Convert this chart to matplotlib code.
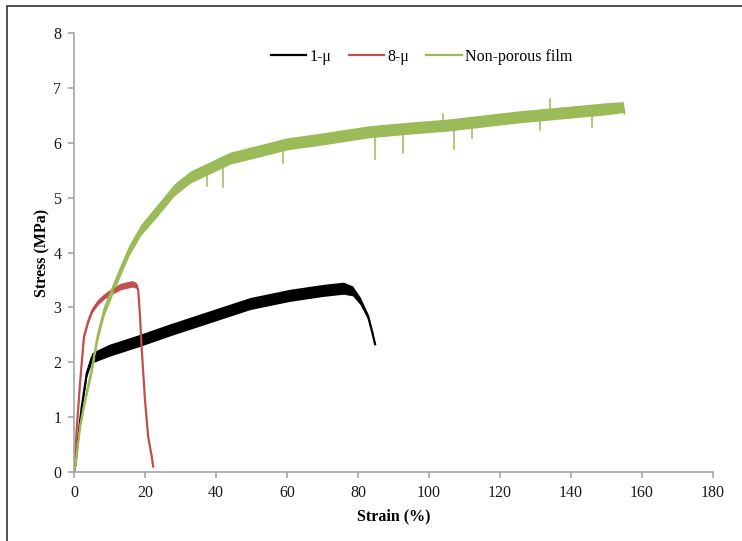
import matplotlib
matplotlib.use("Agg")
import matplotlib.pyplot as plt
from matplotlib.patches import Rectangle

plt.rcParams['font.family'] = ['Liberation Serif', 'DejaVu Serif']

# Courbes (déformation %, contrainte MPa, demi-largeur du bruit)
strain_1mu = [0, 0.3, 1.2, 2.2, 3.6, 5.0, 6.4, 10, 18.6, 27, 38.3, 49.6, 60.8, 70.2, 75.9, 78.5, 80.6, 82.9, 84.0, 84.8]
stress_1mu = [0, 0.1, 0.64, 1.19, 1.8, 2.08, 2.12, 2.22, 2.4, 2.59, 2.83, 3.07, 3.22, 3.31, 3.35, 3.3, 3.12, 2.82, 2.55, 2.33]
noise_1mu = [0, 0.02, 0.03, 0.04, 0.06, 0.09, 0.1, 0.11, 0.11, 0.11, 0.11, 0.11, 0.11, 0.11, 0.11, 0.09, 0.07, 0.05, 0.03, 0.02]

strain_8mu = [0, 0.3, 0.75, 1.7, 2.8, 4.0, 5.2, 6.8, 8.5, 10.8, 13.1, 16.4, 17.6, 18.1, 18.6, 19.1, 20, 20.9, 21.9, 22.3]
stress_8mu = [0, 0.16, 0.76, 1.62, 2.46, 2.75, 2.95, 3.1, 3.2, 3.3, 3.38, 3.43, 3.40, 3.31, 2.83, 2.22, 1.31, 0.64, 0.28, 0.1]
noise_8mu = [0, 0.01, 0.01, 0.02, 0.03, 0.04, 0.04, 0.05, 0.05, 0.06, 0.06, 0.06, 0.05, 0.03, 0.01, 0.01, 0.01, 0.01, 0.03, 0.04]

strain_np = [0, 0.5, 1.7, 3.1, 5.0, 6.6, 8.5, 10.8, 13.1, 15.5, 18.8, 23.5, 28.2, 32.9, 37.5, 44, 53.3, 60, 70, 83, 95, 105, 113, 125, 140, 150, 154.7, 155]
stress_np = [0, 0.15, 0.83, 1.31, 1.86, 2.46, 2.95, 3.32, 3.68, 4.04, 4.41, 4.77, 5.14, 5.38, 5.52, 5.72, 5.87, 5.98, 6.07, 6.2, 6.27, 6.32, 6.38, 6.47, 6.56, 6.62, 6.65, 6.55]
noise_np = [0, 0.04, 0.06, 0.07, 0.08, 0.09, 0.1, 0.1, 0.1, 0.1, 0.1, 0.11, 0.11, 0.11, 0.11, 0.11, 0.11, 0.11, 0.11, 0.11, 0.11, 0.11, 0.11, 0.11, 0.11, 0.11, 0.1, 0.05]

# Pics isolés du film non poreux (déformation, contrainte au bout du pic)
spike_strain_np = [37.4, 42.0, 58.8, 84.8, 92.6, 103.8, 106.9, 112.0, 131.3, 134.0, 145.8]
spike_stress_np = [5.22, 5.2, 5.63, 5.71, 5.82, 6.53, 5.88, 6.08, 6.23, 6.8, 6.29]

series = [
    (strain_1mu, stress_1mu, noise_1mu, "1-\u03bc", "#000000"),
    (strain_8mu, stress_8mu, noise_8mu, "8-\u03bc", "#c0504d"),
    (strain_np, stress_np, noise_np, "Non-porous film", "#9bbb59"),
]

fig = plt.figure(figsize=(7.42, 5.41), dpi=100)
ax = fig.add_axes([0.0997, 0.1275, 0.8613, 0.8115])

for x, y, d, nom, c in series:
    lo = [a - b for a, b in zip(y, d)]
    hi = [a + b for a, b in zip(y, d)]
    ax.fill_between(x, lo, hi, color=c, linewidth=0)
    ax.plot(x, y, color=c, linewidth=1.6, label=nom)

# pics : du milieu de la bande jusqu'à la valeur lue
for s, v in zip(spike_strain_np, spike_stress_np):
    mid = 0
    for i in range(len(strain_np) - 1):
        if strain_np[i] <= s <= strain_np[i + 1]:
            t = (s - strain_np[i]) / (strain_np[i + 1] - strain_np[i])
            mid = stress_np[i] + t * (stress_np[i + 1] - stress_np[i])
    ax.plot([s, s], [mid, v], color="#9bbb59", linewidth=1.1)

ax.set_xlim(0, 180)
ax.set_ylim(0, 8)
ax.set_xticks(range(0, 181, 20))
ax.set_yticks(range(0, 9))
for s in ["top", "right"]:
    ax.spines[s].set_visible(False)
for s in ["left", "bottom"]:
    ax.spines[s].set_color("#a6a6a6")
    ax.spines[s].set_linewidth(1.2)
ax.tick_params(axis="both", direction="out", length=4, width=1.2, color="#a6a6a6",
               labelsize=11.5, labelcolor="#1a1a1a", pad=5)

ax.set_xlabel("Strain (%)", fontsize=11.5, fontweight="bold", labelpad=6)
ax.set_ylabel("Stress (MPa)", fontsize=11.5, fontweight="bold", labelpad=2)

leg = ax.legend(loc="center", bbox_to_anchor=(0.568, 0.895), bbox_transform=fig.transFigure,
                ncol=3, frameon=False, fontsize=11.5, handlelength=2.2, handletextpad=0.2,
                columnspacing=1.1)
for line in leg.get_lines():
    line.set_linewidth(1.6)

# Cadre autour de la figure
fig.patches.append(Rectangle((0.0094, -0.05), 1.2, 1.039, transform=fig.transFigure,
                             fill=False, edgecolor="#333333", linewidth=1.2))

fig.savefig("out.png", dpi=100)
